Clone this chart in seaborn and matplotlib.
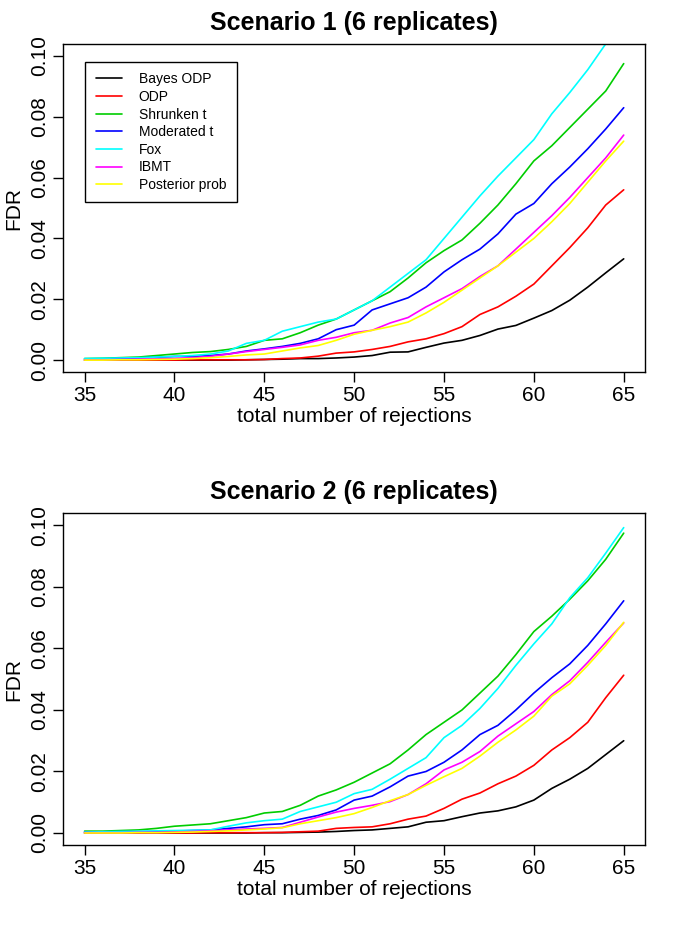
import numpy as np
import pandas as pd
import matplotlib
matplotlib.use("Agg")
import matplotlib.pyplot as plt
import seaborn as sns

# number of rejections on the x axis
rejections = list(range(35, 66))

methods = ["Bayes ODP", "ODP", "Shrunken t", "Moderated t", "Fox", "IBMT", "Posterior prob"]
colors = ["black", "#FF0000", "#00CD00", "#0000FF", "#00FFFF", "#FF00FF", "#FFFF00"]

# Scenario 1 FDR values (35..65)
s1_bayes_odp = [0, 0, 0, 0, 0, 0, 0, 0, 0, 0.0001, 0.0002, 0.0003, 0.0005, 0.0005, 0.0007, 0.0010,
                0.0015, 0.0026, 0.0027, 0.0042, 0.0056, 0.0065, 0.0081, 0.0102, 0.0114, 0.0138,
                0.0163, 0.0197, 0.0240, 0.0287, 0.0333]
s1_odp = [0, 0, 0, 0, 0, 0, 0.0001, 0.0001, 0.0001, 0.0001, 0.0002, 0.0005, 0.0007, 0.0013, 0.0023,
          0.0027, 0.0035, 0.0045, 0.0060, 0.0070, 0.0087, 0.0110, 0.0150, 0.0175, 0.0210, 0.0250,
          0.0310, 0.0370, 0.0435, 0.0510, 0.0560]
s1_shrunken = [0.0005, 0.0006, 0.0008, 0.0010, 0.0015, 0.0020, 0.0025, 0.0028, 0.0035, 0.0045, 0.0065,
               0.0070, 0.0090, 0.0115, 0.0135, 0.0165, 0.0195, 0.0225, 0.0270, 0.0320, 0.0360,
               0.0395, 0.0450, 0.0510, 0.0580, 0.0655, 0.0705, 0.0765, 0.0825, 0.0885, 0.0975]
s1_moderated = [0.0003, 0.0004, 0.0005, 0.0007, 0.0009, 0.0012, 0.0012, 0.0015, 0.0020, 0.0030, 0.0037,
                0.0045, 0.0055, 0.0070, 0.0100, 0.0115, 0.0165, 0.0185, 0.0205, 0.0240, 0.0290,
                0.0330, 0.0365, 0.0415, 0.0480, 0.0515, 0.0580, 0.0635, 0.0695, 0.0760, 0.0830]
s1_fox = [0.0005, 0.0006, 0.0007, 0.0008, 0.0010, 0.0012, 0.0015, 0.0020, 0.0030, 0.0055, 0.0065,
          0.0095, 0.0110, 0.0125, 0.0135, 0.0165, 0.0195, 0.0240, 0.0285, 0.0330, 0.0400, 0.0470,
          0.0540, 0.0605, 0.0665, 0.0725, 0.0810, 0.0880, 0.0955, 0.1040, 0.1110]
s1_ibmt = [0.0001, 0.0001, 0.0002, 0.0003, 0.0004, 0.0005, 0.0008, 0.0012, 0.0020, 0.0028, 0.0035,
           0.0042, 0.0050, 0.0065, 0.0075, 0.0090, 0.0098, 0.0122, 0.0140, 0.0175, 0.0205, 0.0235,
           0.0275, 0.0310, 0.0365, 0.0420, 0.0475, 0.0535, 0.0600, 0.0665, 0.0740]
s1_posterior = [0, 0, 0.0001, 0.0001, 0.0002, 0.0003, 0.0005, 0.0008, 0.0012, 0.0017, 0.0020, 0.0030,
                0.0040, 0.0048, 0.0065, 0.0085, 0.0098, 0.0110, 0.0125, 0.0155, 0.0190, 0.0230,
                0.0270, 0.0310, 0.0355, 0.0400, 0.0455, 0.0515, 0.0585, 0.0655, 0.0720]

# Scenario 2 FDR values (35..65)
s2_bayes_odp = [0, 0, 0, 0, 0, 0, 0, 0, 0, 0, 0.0001, 0.0001, 0.0002, 0.0003, 0.0005, 0.0008, 0.0010,
                0.0015, 0.0020, 0.0035, 0.0040, 0.0053, 0.0065, 0.0072, 0.0085, 0.0107, 0.0145,
                0.0175, 0.0210, 0.0255, 0.0300]
s2_odp = [0, 0, 0, 0, 0, 0, 0, 0.0001, 0.0001, 0.0001, 0.0001, 0.0002, 0.0004, 0.0006, 0.0015, 0.0018,
          0.0020, 0.0030, 0.0045, 0.0055, 0.0080, 0.0110, 0.0130, 0.0160, 0.0185, 0.0220, 0.0270,
          0.0310, 0.0360, 0.0440, 0.0513]
s2_shrunken = [0.0006, 0.0006, 0.0008, 0.0010, 0.0015, 0.0022, 0.0026, 0.0030, 0.0040, 0.0050, 0.0065,
               0.0070, 0.0090, 0.0120, 0.0140, 0.0165, 0.0195, 0.0225, 0.0270, 0.0320, 0.0360,
               0.0400, 0.0455, 0.0510, 0.0580, 0.0655, 0.0705, 0.0760, 0.0820, 0.0890, 0.0975]
s2_moderated = [0.0003, 0.0003, 0.0004, 0.0004, 0.0005, 0.0006, 0.0008, 0.0010, 0.0015, 0.0020, 0.0027,
                0.0030, 0.0045, 0.0057, 0.0075, 0.0107, 0.0120, 0.0150, 0.0185, 0.0200, 0.0230,
                0.0270, 0.0320, 0.0350, 0.0400, 0.0455, 0.0505, 0.0550, 0.0610, 0.0680, 0.0755]
s2_fox = [0.0003, 0.0004, 0.0005, 0.0006, 0.0007, 0.0008, 0.0009, 0.0010, 0.0022, 0.0033, 0.0040,
          0.0045, 0.0070, 0.0085, 0.0100, 0.0128, 0.0142, 0.0175, 0.0210, 0.0245, 0.0310, 0.0350,
          0.0405, 0.0470, 0.0545, 0.0615, 0.0680, 0.0765, 0.0830, 0.0910, 0.0993]
s2_ibmt = [0.0001, 0.0001, 0.0001, 0.0002, 0.0002, 0.0003, 0.0005, 0.0007, 0.0010, 0.0013, 0.0015,
           0.0018, 0.0035, 0.0052, 0.0068, 0.0080, 0.0090, 0.0102, 0.0125, 0.0160, 0.0205, 0.0230,
           0.0265, 0.0315, 0.0355, 0.0395, 0.0450, 0.0495, 0.0555, 0.0620, 0.0683]
s2_posterior = [0, 0, 0, 0.0001, 0.0001, 0.0002, 0.0003, 0.0005, 0.0007, 0.0010, 0.0013, 0.0017,
                0.0030, 0.0040, 0.0050, 0.0063, 0.0083, 0.0105, 0.0125, 0.0155, 0.0183, 0.0210,
                0.0250, 0.0295, 0.0335, 0.0380, 0.0445, 0.0485, 0.0545, 0.0610, 0.0685]

scenario1 = [s1_bayes_odp, s1_odp, s1_shrunken, s1_moderated, s1_fox, s1_ibmt, s1_posterior]
scenario2 = [s2_bayes_odp, s2_odp, s2_shrunken, s2_moderated, s2_fox, s2_ibmt, s2_posterior]


def to_long(series_list):
    rows = []
    for name, vals in zip(methods, series_list):
        for n, v in zip(rejections, vals):
            rows.append({"rejections": n, "FDR": v, "method": name})
    return pd.DataFrame(rows)


sns.set_style("ticks")
plt.rcParams['font.family'] = ['Liberation Sans', 'DejaVu Sans']
plt.rcParams['text.color'] = 'black'
plt.rcParams['axes.labelcolor'] = 'black'

fig = plt.figure(figsize=(6.85, 9.33), dpi=100)
ax1 = fig.add_axes([0.092, 0.601, 0.850, 0.352])
ax2 = fig.add_axes([0.092, 0.094, 0.850, 0.356])


def draw_panel(ax, series_list, title, show_legend):
    df = to_long(series_list)
    sns.lineplot(data=df, x="rejections", y="FDR", hue="method", hue_order=methods,
                 palette=colors, linewidth=1.2, ax=ax, legend=show_legend)
    ax.set_xlim(33.8, 66.2)
    ax.set_ylim(-0.004, 0.104)
    ax.set_xticks(range(35, 66, 5))
    ax.set_yticks(np.arange(0, 0.101, 0.02))
    ax.set_yticklabels(["%.2f" % t for t in np.arange(0, 0.101, 0.02)],
                       rotation=90, va="center")
    ax.tick_params(axis="both", labelsize=15, length=7, width=1, color="black",
                   labelcolor="black", pad=3)
    for sp in ax.spines.values():
        sp.set_visible(True)
        sp.set_color("black")
        sp.set_linewidth(1)
    ax.set_title(title, fontsize=18, fontweight="bold", pad=10, color="black")
    ax.set_xlabel("total number of rejections", fontsize=15, labelpad=1)
    ax.set_ylabel("FDR", fontsize=15, labelpad=5)
    if show_legend:
        leg = ax.legend(loc="upper left", bbox_to_anchor=(0.038, 0.945), fontsize=10,
                        frameon=True, fancybox=False, edgecolor="black", framealpha=1,
                        handlelength=1.9, handletextpad=1.2, labelspacing=0.26,
                        borderpad=0.75, borderaxespad=0)
        leg.get_frame().set_linewidth(1)


draw_panel(ax1, scenario1, "Scenario 1 (6 replicates)", True)
draw_panel(ax2, scenario2, "Scenario 2 (6 replicates)", False)

fig.savefig("out.png", dpi=100)
